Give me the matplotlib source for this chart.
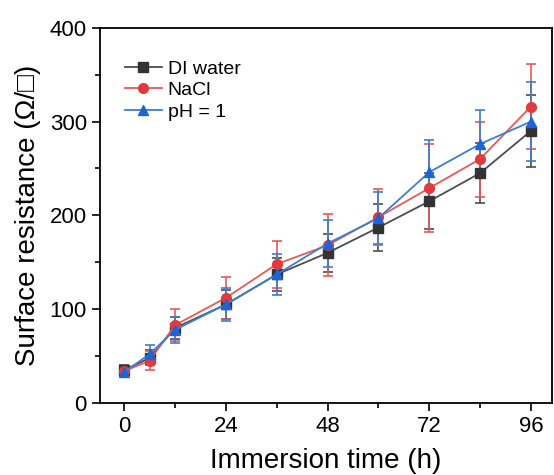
import matplotlib
matplotlib.use("Agg")
import matplotlib.pyplot as plt
from matplotlib.ticker import MultipleLocator

plt.rcParams['font.family'] = ['Liberation Sans', 'DejaVu Sans']

# immersion time (h)
hours = [0, 6, 12, 24, 36, 48, 60, 72, 84, 96]

# surface resistance (ohm/sq) and error bars
di_water = [35, 48, 80, 105, 137, 160, 187, 215, 245, 290]
di_err = [5, 8, 12, 15, 18, 20, 25, 30, 32, 38]
nacl = [34, 45, 83, 112, 148, 168, 198, 229, 260, 316]
nacl_err = [5, 10, 17, 22, 25, 33, 30, 47, 40, 45]
ph1 = [33, 52, 78, 105, 137, 170, 197, 246, 276, 300]
ph1_err = [5, 10, 14, 18, 22, 25, 28, 34, 36, 42]

fig = plt.figure(figsize=(5.54, 4.75), dpi=100)
ax = fig.add_axes([0.1805, 0.1516, 0.816, 0.79])

series = [
    ('DI water', di_water, di_err, '#4d4d4d', '#333333', 's'),
    ('NaCl', nacl, nacl_err, '#e8585a', '#e03a3e', 'o'),
    ('pH = 1', ph1, ph1_err, '#3a7fd0', '#1f64d6', '^'),
]
handles = []
for name, vals, err, lc, mc, mk in series:
    eb = ax.errorbar(hours, vals, yerr=err, color=lc, lw=1.3, marker=mk, ms=7,
                     mfc=mc, mec=mc, capsize=3.5, elinewidth=1.2, capthick=1.2,
                     label=name)
    handles.append(eb.lines[0])

ax.set_xlim(-5.7, 101)
ax.set_ylim(0, 400)
ax.xaxis.set_major_locator(MultipleLocator(24))
ax.xaxis.set_minor_locator(MultipleLocator(12))
ax.yaxis.set_major_locator(MultipleLocator(100))
ax.yaxis.set_minor_locator(MultipleLocator(50))
ax.tick_params(which='major', direction='out', length=6, width=1.2, labelsize=16)
ax.tick_params(which='minor', direction='out', length=3.5, width=1.2)
for s in ax.spines.values():
    s.set_linewidth(1.3)

ax.set_xlabel('Immersion time (h)', fontsize=20, labelpad=8)
ax.set_ylabel('Surface resistance (\u03a9/\u25a1)', fontsize=20, labelpad=6)

ax.legend(handles, [s[0] for s in series], loc='upper left',
          bbox_to_anchor=(0.025, 0.95), frameon=False,
          fontsize=14, handlelength=1.9, handletextpad=0.3,
          labelspacing=0.2, borderpad=0.2)

fig.savefig('out.png', dpi=100)
